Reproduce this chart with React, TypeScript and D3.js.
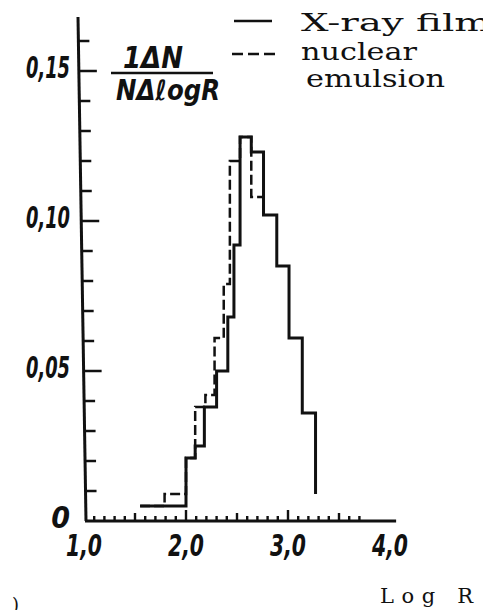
import * as d3 from 'd3'

// bin edges (log R) and normalised frequencies
const xrayEdges = [1.55, 2.0, 2.09, 2.18, 2.3, 2.41, 2.47, 2.53, 2.64, 2.76, 2.89, 3.01, 3.14, 3.27]
const xrayValues = [0.005, 0.021, 0.025, 0.038, 0.05, 0.068, 0.092, 0.128, 0.123, 0.102, 0.085, 0.061, 0.036]
const xrayTail = 0.009

const emulsionEdges = [1.55, 1.79, 2.0, 2.09, 2.19, 2.28, 2.37, 2.43, 2.53, 2.64, 2.76]
const emulsionValues = [0.005, 0.009, 0.021, 0.038, 0.042, 0.061, 0.079, 0.12, 0.128, 0.108]
const emulsionTail = 0.102

const xTickLabels = ['1,0', '2,0', '3,0', '4,0']
const xTickValues = [1, 2, 3, 4]
const yTickLabels = ['0', '0,05', '0,10', '0,15']
const yTickValues = [0, 0.05, 0.1, 0.15]

const legendLabels = ['X-ray film', 'nuclear', 'emulsion']

const W = 491
const H = 610
const ink = '#111'
const hand = '"DejaVu Sans Condensed", "DejaVu Sans", sans-serif'
const typewriter = '"DejaVu Serif", serif'

const x = d3.scaleLinear().domain([1, 4]).range([76, 382])
const y = d3.scaleLinear().domain([0, 0.15]).range([513, 63])

// the hand-drawn y axis leans a little
const yTop = 0.168
const axisXTop = 70
const axisXBottom = 78
const axisXAt = (py: number) => {
  const t = (py - y(yTop)) / (y(0) - y(yTop))
  return axisXTop + t * (axisXBottom - axisXTop)
}

function stepPath(edges: number[], values: number[], tail: number) {
  const pts: [number, number][] = values.map((v, i) => [edges[i], v])
  pts.push([edges[edges.length - 1], tail])
  const line = d3
    .line<[number, number]>()
    .x(d => x(d[0]))
    .y(d => y(d[1]))
    .curve(d3.curveStepAfter)
  return line(pts) ?? ''
}

const layer = { position: 'absolute' as const, left: 0, top: 0 }

function Marks() {
  const base = y(0)
  const yTicks = d3.range(1, 17)
  const xTicks = d3.range(11, 38)
  return (
    <svg width={W} height={H} style={{ ...layer, background: '#fff' }}>
      <path
        d={stepPath(emulsionEdges, emulsionValues, emulsionTail)}
        fill="none"
        stroke={ink}
        strokeWidth={2.5}
        strokeDasharray="10,4"
      />
      <path d={stepPath(xrayEdges, xrayValues, xrayTail)} fill="none" stroke={ink} strokeWidth={3} />

      <line x1={axisXTop} y1={y(yTop)} x2={axisXBottom} y2={base} stroke={ink} strokeWidth={3} />
      <line x1={axisXBottom - 1} y1={base} x2={x(4.06)} y2={base} stroke={ink} strokeWidth={3} />
      {yTicks.map(i => {
        const py = y(i / 100)
        const ax = axisXAt(py)
        const len = i % 5 === 0 ? 18 : 11
        return <rect key={'yt' + i} x={ax} y={py - 1.25} width={len} height={2.5} fill={ink} />
      })}
      {xTicks.map(i => {
        const len = i % 10 === 0 ? 11 : i % 5 === 0 ? 8 : 5
        return <rect key={'xt' + i} x={x(i / 10) - 1.2} y={base - len} width={2.4} height={len} fill={ink} />
      })}

      <line x1={103} y1={65} x2={205} y2={65} stroke={ink} strokeWidth={2.5} />
      <line x1={226} y1={13} x2={264} y2={13} stroke={ink} strokeWidth={2.5} />
      <line x1={224} y1={46} x2={268} y2={46} stroke={ink} strokeWidth={2.5} strokeDasharray="11,5" />
    </svg>
  )
}

function Labels() {
  return (
    <svg width={W} height={H} style={layer}>
      {xTickValues.map((v, i) => (
        <text
          key={'xl' + v}
          x={x(v)}
          y={548}
          textAnchor="middle"
          fontFamily={hand}
          fontStyle="italic"
          fontWeight="bold"
          fontSize={30}
          textLength={36}
          lengthAdjust="spacingAndGlyphs"
          fill={ink}
        >
          {xTickLabels[i]}
        </text>
      ))}
      {yTickValues.map((v, i) => (
        <text
          key={'yl' + v}
          x={62}
          y={y(v) + 7}
          textAnchor="end"
          fontFamily={hand}
          fontStyle="italic"
          fontWeight="bold"
          fontSize={30}
          textLength={yTickLabels[i].length > 1 ? 44 : undefined}
          lengthAdjust="spacingAndGlyphs"
          fill={ink}
        >
          {yTickLabels[i]}
        </text>
      ))}

      <text
        x={115}
        y={60}
        fontFamily={hand}
        fontStyle="italic"
        fontWeight="bold"
        fontSize={30}
        textLength={60}
        lengthAdjust="spacingAndGlyphs"
        fill={ink}
      >
        1ΔN
      </text>
      <text
        x={108}
        y={92}
        fontFamily={hand}
        fontStyle="italic"
        fontWeight="bold"
        fontSize={28}
        textLength={104}
        lengthAdjust="spacingAndGlyphs"
        fill={ink}
      >
        NΔℓogR
      </text>

      <text x={293} y={23} fontFamily={typewriter} fontSize={25} textLength={190} lengthAdjust="spacingAndGlyphs" fill={ink}>
        {legendLabels[0]}
      </text>
      <text x={293} y={52} fontFamily={typewriter} fontSize={25} textLength={116} lengthAdjust="spacingAndGlyphs" fill={ink}>
        {legendLabels[1]}
      </text>
      <text x={298} y={79} fontFamily={typewriter} fontSize={25} textLength={139} lengthAdjust="spacingAndGlyphs" fill={ink}>
        {legendLabels[2]}
      </text>

      <text x={372} y={595} fontFamily={typewriter} fontSize={21} textLength={93} fill={ink}>
        Log R
      </text>
      <text x={4} y={603} fontFamily={typewriter} fontSize={18} fill={ink}>
        )
      </text>
    </svg>
  )
}

export default function App() {
  return (
    <div style={{ position: 'relative', width: W, height: H }}>
      <Marks />
      <Labels />
    </div>
  )
}
